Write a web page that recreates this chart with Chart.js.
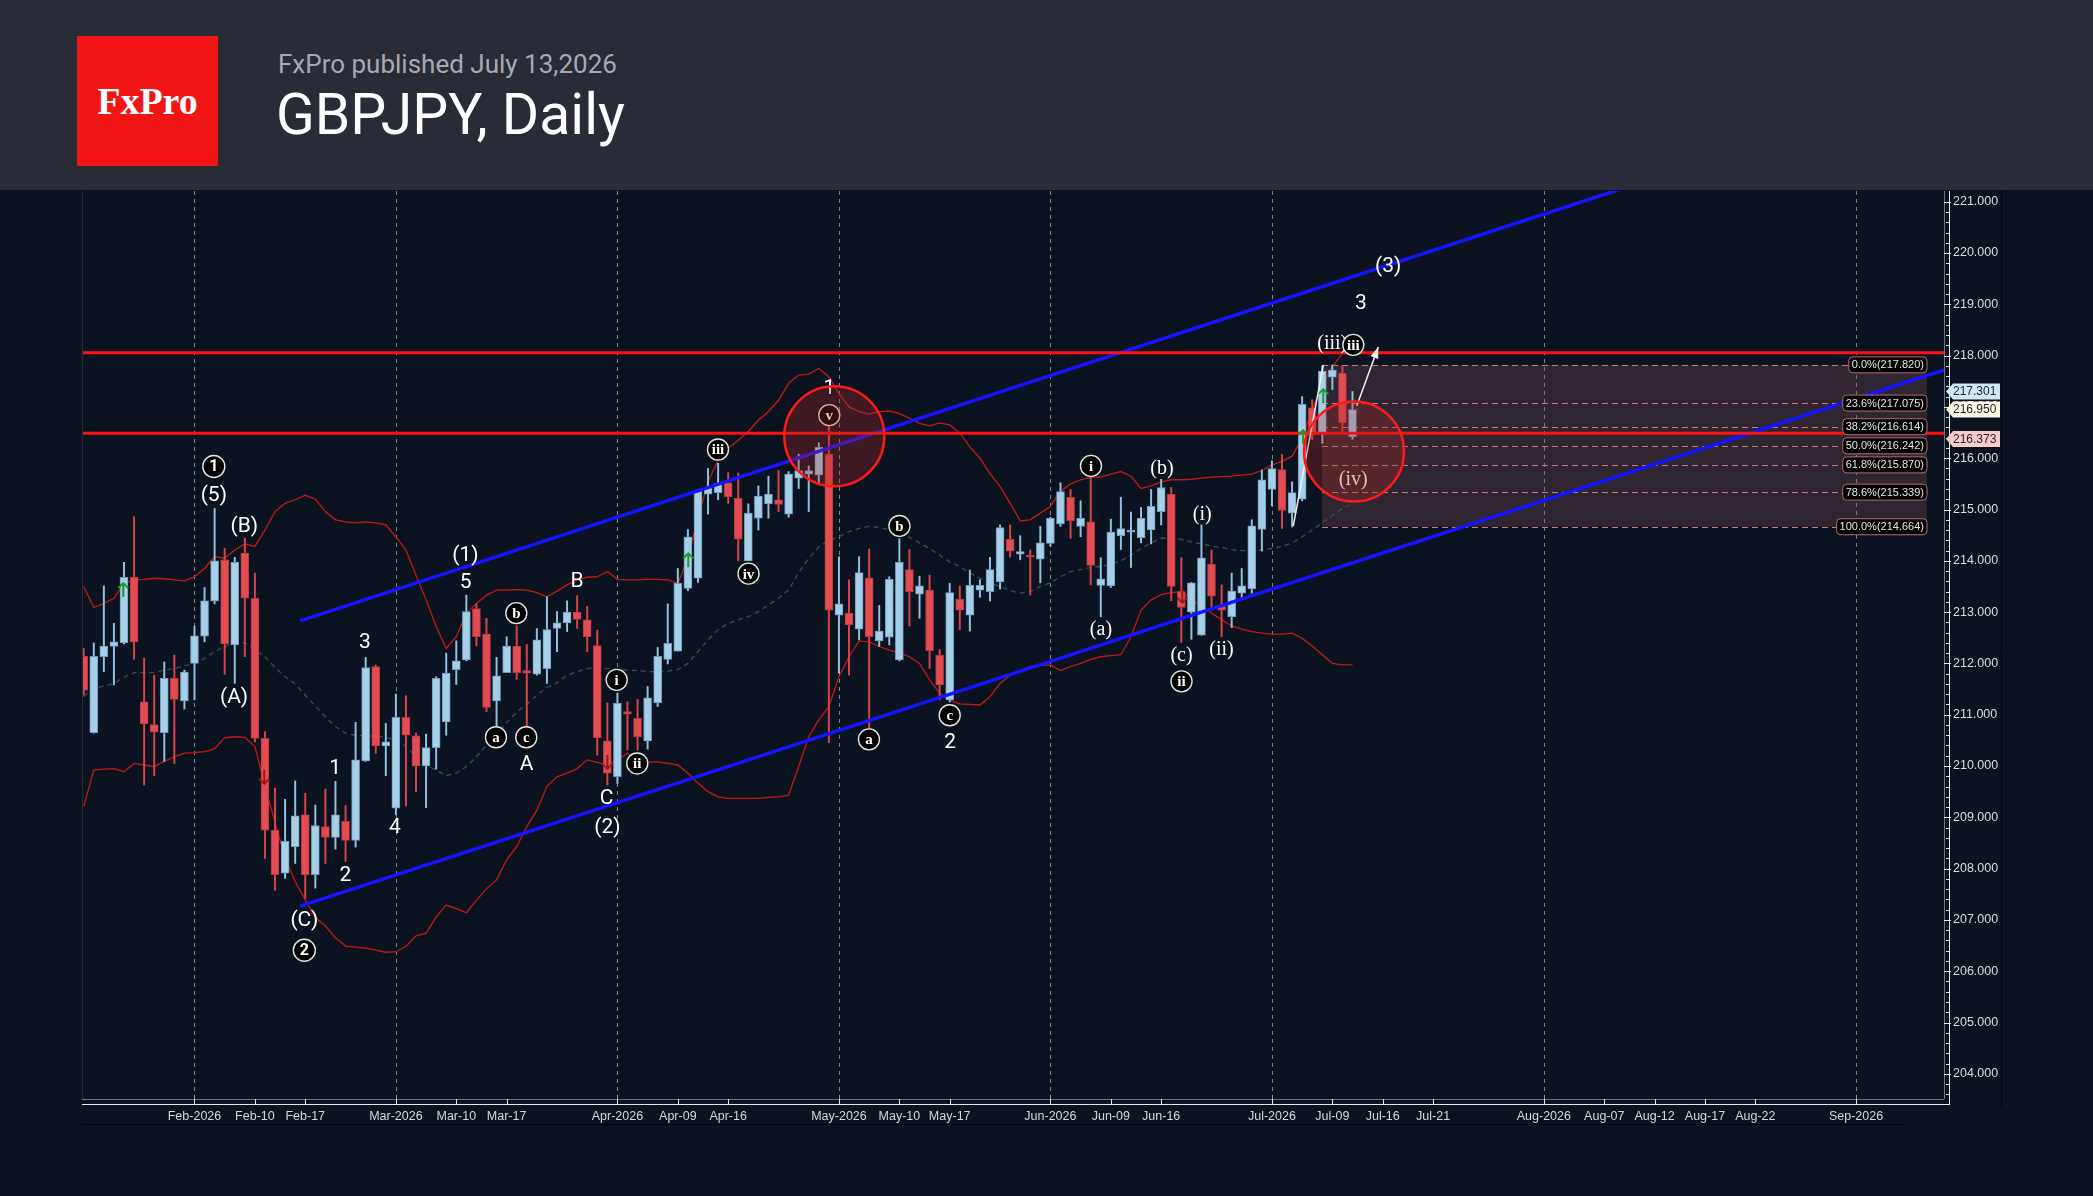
<!DOCTYPE html>
<html>
<head>
<meta charset="utf-8">
<title>GBPJPY, Daily</title>
<script src="https://cdn.jsdelivr.net/npm/chart.js@4.4.1/dist/chart.umd.min.js"></script>
<style>
  html, body { margin: 0; padding: 0; width: 2093px; height: 1196px; overflow: hidden; background: #0c1320; }
  #header { position: absolute; left: 0; top: 0; width: 2093px; height: 190px; background: #292b37; }
  #logo { position: absolute; left: 77px; top: 36px; width: 141px; height: 130px; background: #f21515; color: #fff;
          font: bold 38px 'Liberation Serif', 'Times New Roman', serif; display: flex; align-items: center; justify-content: center; }
  #sub { position: absolute; left: 278px; top: 51px; font: 26px Roboto, sans-serif; line-height: 26px; color: #a7a9b1; white-space: nowrap; }
  #title { position: absolute; left: 276px; top: 86px; font: 57px Roboto, sans-serif; line-height: 57px; color: #fff; white-space: nowrap; }
  #wrap { position: absolute; left: 0; top: 190px; width: 2093px; height: 1006px; }
</style>
</head>
<body>
<div id="header">
  <div id="logo">FxPro</div>
  <div id="sub">FxPro published July 13,2026</div>
  <div id="title">GBPJPY, Daily</div>
</div>
<div id="wrap"><canvas id="chart" width="2093" height="1006"></canvas></div>

<script>
// daily bars, one per trading day from Jan 16 to Jul 13 2026 (x = bar index)
const opens = [212.14,210.65,212.13,212.33,212.40,213.68,211.25,210.81,210.65,211.71,
  211.27,212.00,212.53,213.22,214.02,212.36,214.15,213.27,210.54,208.75,
  207.91,208.43,209.05,207.88,208.82,208.61,208.92,208.55,210.10,211.94,
  210.39,209.18,210.95,210.59,210.00,210.36,210.86,211.88,212.07,213.07,
  212.57,211.27,211.82,212.34,211.86,211.79,211.90,212.68,212.79,213.00,
  212.85,212.35,210.49,209.79,211.06,210.93,210.49,211.23,212.08,212.24,
  213.46,213.66,215.30,215.33,215.52,215.22,214.00,214.83,215.11,215.19,
  214.91,215.61,215.69,215.67,216.08,212.94,212.98,212.67,213.67,212.44,
  212.51,212.07,213.83,213.35,213.43,212.16,211.29,213.25,212.94,213.43,
  213.40,213.59,214.42,214.13,214.11,214.03,214.34,214.72,215.24,214.67,
  214.76,213.52,213.51,214.49,214.56,214.45,214.60,214.96,215.30,213.40,
  213.00,212.55,213.93,213.11,212.91,213.37,213.45,214.61,215.39,215.78,
  214.93,215.20,216.98,216.50,217.58,217.66,216.42];
const highs = [212.29,212.40,213.51,212.78,213.97,214.86,212.10,211.77,212.03,212.16,
  211.87,212.73,213.48,215.02,214.24,214.07,214.44,213.76,210.67,209.57,
  209.35,209.71,209.47,209.24,209.55,209.70,209.23,210.85,212.12,211.97,
  210.83,211.40,211.37,210.64,210.62,211.74,212.20,212.44,213.33,213.16,
  212.88,212.12,212.52,212.73,212.37,212.68,213.30,213.01,213.22,213.32,
  213.11,212.65,211.23,211.42,211.25,211.30,211.55,212.31,213.16,213.85,
  214.61,215.39,215.80,215.90,215.72,215.71,215.11,215.46,215.65,215.76,
  215.74,216.08,215.85,216.30,216.63,214.08,213.63,214.08,214.23,213.13,
  213.69,214.43,214.22,213.70,213.72,212.27,213.56,213.51,213.82,213.63,
  214.07,214.70,214.70,214.49,214.21,214.67,214.85,215.52,215.39,215.17,
  215.64,214.06,214.81,215.24,214.95,215.04,215.39,215.59,215.43,214.06,
  213.58,214.70,214.21,213.53,213.76,213.85,214.80,215.77,215.95,216.07,
  215.54,217.20,217.14,217.80,217.82,217.80,217.30];
const lows = [211.38,210.64,211.84,211.58,212.38,212.08,209.63,209.81,210.09,210.05,
  211.11,211.29,212.42,213.16,211.79,211.61,212.13,210.47,208.20,207.58,
  207.81,208.10,207.42,207.62,208.10,208.38,208.14,208.42,210.09,210.25,
  209.81,209.05,209.22,209.50,209.19,209.94,210.60,211.59,212.05,212.34,
  211.06,210.78,211.82,211.69,210.70,211.77,211.61,212.23,212.62,212.68,
  212.23,210.21,209.63,209.66,210.31,210.31,210.33,211.16,211.99,212.24,
  213.42,213.58,214.91,215.19,215.12,214.00,214.00,214.60,214.83,214.96,
  214.85,215.41,214.96,215.51,210.46,211.81,211.77,212.46,210.54,212.33,
  212.36,212.05,212.73,212.88,211.90,211.29,211.25,212.66,212.63,213.29,
  213.22,213.45,214.07,214.02,213.33,213.57,214.28,214.67,214.44,214.47,
  213.53,212.91,213.48,214.22,213.87,214.35,214.33,214.70,213.22,212.41,
  212.47,212.55,213.04,212.52,212.70,213.25,213.37,214.19,215.07,214.63,
  214.66,215.17,216.36,216.29,217.34,216.50,216.37];
const closes = [211.48,212.14,212.34,212.42,213.68,212.42,210.82,210.66,211.71,211.30,
  211.83,212.54,213.22,214.00,212.38,213.97,213.27,210.54,208.75,207.88,
  208.53,209.03,207.88,208.84,208.61,209.05,208.55,210.12,211.92,210.39,
  210.47,210.95,210.60,210.00,210.36,211.71,211.81,212.05,213.01,212.52,
  211.14,211.76,212.34,211.82,211.81,212.46,212.66,212.79,213.00,212.86,
  212.52,210.55,209.86,211.22,211.01,210.57,211.33,212.14,212.39,213.56,
  214.47,215.36,215.43,215.51,215.25,214.42,214.93,215.26,215.30,215.10,
  215.69,215.76,215.76,216.21,213.04,213.16,212.75,213.77,212.52,212.63,
  213.64,213.97,213.40,213.51,212.25,211.58,213.38,213.04,213.52,213.52,
  213.83,214.65,214.19,214.18,214.07,214.35,214.83,215.35,214.78,214.83,
  213.91,213.65,214.56,214.63,214.60,214.83,215.06,215.43,213.50,213.09,
  213.57,214.06,213.31,213.04,213.41,213.51,214.68,215.58,215.80,214.98,
  215.33,217.05,216.45,217.70,217.72,216.69,216.95];

// Bollinger bands
const bbUpper = [213.50,213.09,213.17,213.27,213.56,213.63,213.64,213.66,213.65,213.63,
  213.61,213.69,213.85,214.08,214.05,214.21,214.33,214.28,214.60,214.96,
  215.12,215.19,215.28,215.20,214.96,214.80,214.76,214.74,214.76,214.74,
  214.70,214.47,214.21,213.72,213.24,212.72,212.29,212.52,212.98,213.17,
  213.33,213.43,213.43,213.44,213.43,213.38,213.30,213.41,213.53,213.63,
  213.68,213.69,213.79,213.64,213.63,213.63,213.64,213.64,213.63,213.56,
  214.05,214.83,215.54,215.96,216.19,216.35,216.52,216.74,216.91,217.13,
  217.46,217.62,217.64,217.75,217.59,217.26,217.00,216.91,216.86,216.91,
  216.92,216.87,216.78,216.68,216.63,216.69,216.65,216.49,216.22,216.00,
  215.70,215.45,215.12,214.78,214.80,214.93,215.06,215.35,215.50,215.58,
  215.63,215.63,215.69,215.74,215.65,215.41,215.46,215.54,215.58,215.58,
  215.59,215.61,215.63,215.64,215.65,215.67,215.69,215.76,215.87,215.94,
  216.04,216.39,216.94,217.43,217.78,218.04,218.11];
const bbMiddle = [211.35,211.51,211.56,211.61,211.73,211.82,211.82,211.82,211.87,211.90,
  211.95,212.00,212.10,212.23,212.33,212.40,212.40,212.27,212.13,211.92,
  211.74,211.60,211.38,211.17,210.96,210.77,210.64,210.60,210.59,210.58,
  210.56,210.51,210.38,210.18,210.02,209.92,209.81,209.86,209.99,210.18,
  210.41,210.60,210.85,211.05,211.20,211.38,211.53,211.62,211.77,211.84,
  211.90,211.92,211.90,211.88,211.87,211.86,211.84,211.84,211.85,211.88,
  212.00,212.23,212.46,212.66,212.78,212.85,212.91,213.01,213.14,213.27,
  213.43,213.77,214.05,214.27,214.40,214.47,214.57,214.63,214.67,214.65,
  214.61,214.55,214.46,214.35,214.24,214.11,213.98,213.89,213.76,213.66,
  213.57,213.50,213.42,213.37,213.40,213.50,213.57,213.69,213.79,213.83,
  213.87,213.89,213.93,214.00,214.11,214.24,214.35,214.44,214.44,214.42,
  214.37,214.33,214.29,214.26,214.22,214.20,214.20,214.21,214.24,214.28,
  214.35,214.47,214.60,214.74,214.89,215.02,215.12];
const bbLower = [209.21,209.92,209.94,209.95,209.89,210.05,210.02,209.99,210.09,210.18,
  210.25,210.26,210.28,210.34,210.55,210.57,210.56,210.38,209.60,208.90,
  208.20,207.75,207.39,207.05,206.88,206.65,206.49,206.47,206.45,206.41,
  206.37,206.38,206.48,206.69,206.74,207.06,207.29,207.22,207.14,207.38,
  207.61,207.78,208.17,208.43,208.82,209.14,209.60,209.79,209.86,209.95,
  210.12,210.07,210.02,210.12,210.25,210.08,210.08,210.08,210.05,210.02,
  209.86,209.67,209.50,209.40,209.37,209.37,209.37,209.37,209.39,209.40,
  209.43,209.99,210.57,210.90,211.16,211.74,212.13,212.44,212.42,212.33,
  212.26,212.20,212.13,212.00,211.68,211.42,211.29,211.21,211.20,211.19,
  211.35,211.61,211.77,211.86,211.94,211.96,211.97,211.86,211.94,212.00,
  212.08,212.13,212.15,212.17,212.52,213.04,213.24,213.34,213.38,213.40,
  213.25,213.12,212.98,212.85,212.73,212.67,212.62,212.59,212.57,212.57,
  212.59,212.49,212.34,212.17,212.00,211.97,211.97];

// axis: bar index of each date label (after the last bar the axis runs in calendar days)
const tickIndex = [11, 17, 22, 31, 37, 42, 53, 59, 64, 75, 81, 86, 96, 102, 107, 118, 124, 129, 134, 145, 151, 156, 161, 166, 176];
const tickLabels = ['Feb-2026', 'Feb-10', 'Feb-17', 'Mar-2026', 'Mar-10', 'Mar-17', 'Apr-2026', 'Apr-09', 'Apr-16',
  'May-2026', 'May-10', 'May-17', 'Jun-2026', 'Jun-09', 'Jun-16', 'Jul-2026', 'Jul-09', 'Jul-16', 'Jul-21',
  'Aug-2026', 'Aug-07', 'Aug-12', 'Aug-17', 'Aug-22', 'Sep-2026'];
const monthIndex = [11, 31, 53, 75, 96, 118, 145, 176];
const yTicks = [204, 205, 206, 207, 208, 209, 210, 211, 212, 213, 214, 215, 216, 217, 218, 219, 220, 221];

// fibonacci retracement of the last swing
const fibLevels = ['0.0', '23.6', '38.2', '50.0', '61.8', '78.6', '100.0'];
const fibPrices = [217.820, 217.075, 216.614, 216.242, 215.870, 215.339, 214.664];
const fibStart = 122.97;
const fibEnd = 183.05;

const resistance = [218.057, 216.485];
const channelUpper = [[21.5, 212.83], [160, 221.72]];
const channelLower = [[21.5, 207.27], [184.74, 217.72]];

const tagValues = ['217.301', '216.950', '216.373'];
const tagFills = ['#cfe7f6', '#fcf7e3', '#f9c9c9'];

// wave count: [style, text, bar index, price]
const waveLabels = [
  ['circ', '1', 12.92, 215.84], ['num', '(5)', 12.92, 215.27], ['num', '(B)', 15.95, 214.66],
  ['num', '(A)', 14.93, 211.33], ['num', '1', 24.96, 209.95], ['num', '2', 25.98, 207.87],
  ['num', '3', 27.93, 212.40], ['num', '4', 30.91, 208.79], ['num', '(C)', 21.91, 206.98],
  ['circ', '2', 21.91, 206.41], ['num', '(1)', 37.91, 214.09], ['num', '5', 37.93, 213.57],
  ['circ', 'a', 40.94, 210.56], ['circ', 'b', 42.96, 212.98], ['circ', 'c', 43.95, 210.56],
  ['num', 'A', 43.97, 210.03], ['num', 'B', 48.99, 213.59], ['circ', 'i', 52.93, 211.68],
  ['num', 'C', 51.92, 209.37], ['num', '(2)', 52.0, 208.80], ['circ', 'ii', 54.97, 210.05],
  ['circ', 'iii', 62.99, 216.17], ['circ', 'iv', 66.02, 213.75], ['num', '1', 74.04, 217.36],
  ['circ', 'v', 74.04, 216.84], ['circ', 'b', 81.01, 214.68], ['circ', 'a', 77.98, 210.52],
  ['circ', 'c', 86.0, 210.99], ['num', '2', 86.05, 210.46], ['circ', 'i', 100.03, 215.85],
  ['rom', '(a)', 101.02, 212.66], ['rom', '(b)', 107.08, 215.79], ['rom', '(i)', 111.08, 214.89],
  ['rom', '(c)', 109.02, 212.14], ['circ', 'ii', 109.02, 211.65], ['rom', '(ii)', 112.99, 212.26],
  ['rom', '(iii)', 123.99, 218.24], ['circ', 'iii', 126.08, 218.21], ['num', '3', 126.84, 219.01],
  ['num', '(3)', 129.55, 219.73], ['rom', '(iv)', 126.08, 215.59]
];
const upArrows = [[3.93, 213.43], [60.04, 214.01], [121.1, 216.41], [123.1, 217.21]];
const downArrows = [[17.93, 209.79], [52.0, 210.08], [109.1, 213.32]];
const zones = [[74.54, 216.43], [126.15, 216.13]];
const impulseLeg = [[120.12, 214.68], [123.1, 217.82]];
const projection = [[126.42, 217.02], [128.56, 218.17]];

const idx = opens.map((_, i) => i);
const isUp = idx.map(i => closes[i] >= opens[i]);
const bodyFill = isUp.map(u => u ? '#a7d0e8' : '#e24c52');
const bodyEdge = isUp.map(u => u ? '#6d9dbd' : '#b53a40');
const wickColor = isUp.map(u => u ? '#92c2de' : '#d9444b');

const pts = arr => arr.map((v, i) => ({ x: i, y: v }));
const seg = arr => arr.map(p => ({ x: p[0], y: p[1] }));

function drawWave(ctx, kind, text, x, y) {
  ctx.textAlign = 'center';
  ctx.textBaseline = 'middle';
  if (kind === 'num') {
    ctx.font = '21px Roboto, sans-serif';
    ctx.fillStyle = '#ffffff';
    ctx.fillText(text, x, y);
  } else if (kind === 'rom') {
    ctx.font = '20px "Liberation Serif", serif';
    ctx.fillStyle = '#ffffff';
    ctx.fillText(text, x, y);
  } else {
    const digit = /\d/.test(text);
    ctx.beginPath();
    ctx.arc(x, y, digit ? 11 : 10.5, 0, Math.PI * 2);
    ctx.fillStyle = '#000000';
    ctx.fill();
    ctx.lineWidth = 1.4;
    ctx.strokeStyle = '#e4e4e4';
    ctx.stroke();
    ctx.fillStyle = '#ffffff';
    ctx.font = digit ? 'bold 16px Roboto, sans-serif' : 'bold 15px "Liberation Serif", serif';
    ctx.fillText(text, x, y + 1);
  }
}

function drawArrow(ctx, x, y, dir, color) {
  // dir -1 points up, 1 points down
  const tip = y + 7 * dir;
  ctx.strokeStyle = color;
  ctx.lineWidth = 2;
  ctx.beginPath();
  ctx.moveTo(x, y - 7 * dir);
  ctx.lineTo(x, tip);
  ctx.moveTo(x - 5, tip - 5 * dir);
  ctx.lineTo(x, tip);
  ctx.lineTo(x + 5, tip - 5 * dir);
  ctx.stroke();
}

function line(ctx, x1, y1, x2, y2) {
  ctx.beginPath();
  ctx.moveTo(x1, y1);
  ctx.lineTo(x2, y2);
  ctx.stroke();
}

const overlay = {
  id: 'overlay',
  beforeDatasetsDraw(chart) {
    const { ctx, chartArea: a, scales: { x, y } } = chart;
    ctx.save();
    // month separators
    ctx.strokeStyle = '#7c838d';
    ctx.lineWidth = 1;
    ctx.setLineDash([4, 4]);
    monthIndex.forEach(m => {
      const px = Math.round(x.getPixelForValue(m)) + 0.5;
      line(ctx, px, a.top, px, a.bottom);
    });
    // fib zone
    const fx0 = x.getPixelForValue(fibStart);
    const fx1 = x.getPixelForValue(fibEnd);
    const fy0 = y.getPixelForValue(fibPrices[0]);
    const fy1 = y.getPixelForValue(fibPrices[fibPrices.length - 1]);
    ctx.setLineDash([]);
    ctx.fillStyle = 'rgba(132,82,89,0.3)';
    ctx.fillRect(fx0, fy0, fx1 - fx0, fy1 - fy0);
    ctx.strokeStyle = '#c47c80';
    ctx.setLineDash([6, 4]);
    fibPrices.forEach(p => {
      const py = Math.round(y.getPixelForValue(p)) + 0.5;
      line(ctx, fx0, py, fx1, py);
    });
    ctx.restore();
  },
  afterDatasetsDraw(chart) {
    const { ctx, chartArea: a, scales: { x, y } } = chart;
    const px = v => x.getPixelForValue(v);
    const py = v => y.getPixelForValue(v);
    ctx.save();

    waveLabels.forEach(([kind, text, xi, yp]) => drawWave(ctx, kind, text, px(xi), py(yp)));
    upArrows.forEach(([xi, yp]) => drawArrow(ctx, px(xi), py(yp), -1, '#1f9a2a'));
    downArrows.forEach(([xi, yp]) => drawArrow(ctx, px(xi), py(yp), 1, '#9a1c1c'));

    // projected move
    ctx.strokeStyle = '#f2f2f2';
    ctx.lineWidth = 1.5;
    line(ctx, px(impulseLeg[0][0]), py(impulseLeg[0][1]), px(impulseLeg[1][0]), py(impulseLeg[1][1]));
    const ax0 = px(projection[0][0]), ay0 = py(projection[0][1]);
    const ax1 = px(projection[1][0]), ay1 = py(projection[1][1]);
    line(ctx, ax0, ay0, ax1, ay1);
    const ang = Math.atan2(ay1 - ay0, ax1 - ax0);
    ctx.fillStyle = '#f2f2f2';
    ctx.beginPath();
    ctx.moveTo(ax1, ay1);
    ctx.lineTo(ax1 - 12 * Math.cos(ang - 0.35), ay1 - 12 * Math.sin(ang - 0.35));
    ctx.lineTo(ax1 - 12 * Math.cos(ang + 0.35), ay1 - 12 * Math.sin(ang + 0.35));
    ctx.closePath();
    ctx.fill();

    // highlighted zones
    zones.forEach(([xi, yp]) => {
      ctx.beginPath();
      ctx.arc(px(xi), py(yp), 50, 0, Math.PI * 2);
      ctx.fillStyle = 'rgba(180,40,40,0.3)';
      ctx.fill();
      ctx.lineWidth = 2.5;
      ctx.strokeStyle = '#ff1a1a';
      ctx.stroke();
    });

    // fib labels
    ctx.font = '11px "Liberation Sans", Arial, sans-serif';
    ctx.textAlign = 'left';
    ctx.textBaseline = 'middle';
    const fr = px(fibEnd);
    fibLevels.forEach((lv, k) => {
      const txt = lv + '%(' + fibPrices[k].toFixed(3) + ')';
      const w = ctx.measureText(txt).width + 6;
      const cy = py(fibPrices[k]);
      ctx.beginPath();
      ctx.roundRect(fr - w, cy - 8, w, 16, 4);
      ctx.fillStyle = '#000000';
      ctx.fill();
      ctx.lineWidth = 1;
      ctx.strokeStyle = '#b86b6f';
      ctx.stroke();
      ctx.fillStyle = '#e6e6e6';
      ctx.fillText(txt, fr - w + 3, cy + 0.5);
    });

    // frame
    ctx.lineWidth = 1;
    ctx.strokeStyle = '#262c36';
    line(ctx, a.left + 0.5, a.top, a.left + 0.5, a.bottom);
    ctx.strokeStyle = '#6f747c';
    line(ctx, a.left, a.bottom + 0.5, a.right, a.bottom + 0.5);
    line(ctx, a.right + 0.5, a.top, a.right + 0.5, a.bottom);
    ctx.strokeStyle = '#e6e8ea';
    line(ctx, a.left, a.bottom + 5.5, a.right + 6, a.bottom + 5.5);
    line(ctx, a.right + 5.5, a.top, a.right + 5.5, a.bottom + 6);
    yTicks.forEach(v => {
      const ty = Math.round(py(v)) + 0.5;
      line(ctx, a.right, ty, a.right + 7, ty);
      for (let k = 1; k < 5; k++) {
        const my = Math.round(py(v - k * 0.2)) + 0.5;
        if (my < a.bottom) line(ctx, a.right + 2, my, a.right + 5, my);
      }
    });
    tickIndex.forEach(t => {
      const tx = Math.round(px(t)) + 0.5;
      line(ctx, tx, a.bottom, tx, a.bottom + 5);
    });
    ctx.strokeStyle = '#9aa0a8';
    monthIndex.forEach(t => {
      const tx = Math.round(px(t)) + 0.5;
      line(ctx, tx, a.bottom - 4, tx, a.bottom);
    });
    ctx.strokeStyle = '#03060b';
    line(ctx, 2001.5, a.top, 2001.5, a.bottom + 9);
    line(ctx, a.left, a.bottom + 25.5, 1905, a.bottom + 25.5);

    // last price tags
    ctx.font = '12px "Liberation Sans", Arial, sans-serif';
    tagValues.forEach((v, k) => {
      const cy = py(parseFloat(v));
      const x0 = a.right + 2;
      ctx.beginPath();
      ctx.moveTo(x0, cy);
      ctx.lineTo(x0 + 7, cy - 8);
      ctx.lineTo(2000, cy - 8);
      ctx.lineTo(2000, cy + 8);
      ctx.lineTo(x0 + 7, cy + 8);
      ctx.closePath();
      ctx.fillStyle = tagFills[k];
      ctx.fill();
      ctx.fillStyle = '#1b2230';
      ctx.fillText(v, 1953, cy + 0.5);
    });
    ctx.restore();
  }
};

new Chart(document.getElementById('chart'), {
  type: 'bar',
  data: {
    datasets: [
      { type: 'line', data: pts(bbUpper), borderColor: '#c41616', borderWidth: 1.3, pointRadius: 0, tension: 0, order: 9 },
      { type: 'line', data: pts(bbLower), borderColor: '#c41616', borderWidth: 1.3, pointRadius: 0, tension: 0, order: 9 },
      { type: 'line', data: pts(bbMiddle), borderColor: '#3a4d57', borderDash: [5, 4], borderWidth: 1.3, pointRadius: 0, tension: 0, order: 9 },
      { type: 'bar', data: idx.map(i => ({ x: i, y: [lows[i], highs[i]] })), backgroundColor: wickColor,
        barThickness: 1.3, grouped: false, order: 6 },
      { type: 'bar', data: idx.map(i => ({ x: i, y: [opens[i], closes[i]] })), backgroundColor: bodyFill,
        borderColor: bodyEdge, borderWidth: 1, borderSkipped: false, barThickness: 8, minBarLength: 2, grouped: false, order: 5 },
      { type: 'line', data: seg(channelUpper), borderColor: '#1414ff', borderWidth: 3.5, pointRadius: 0, order: 3 },
      { type: 'line', data: seg(channelLower), borderColor: '#1414ff', borderWidth: 3.5, pointRadius: 0, order: 3 },
      ...resistance.map(r => ({ type: 'line', data: [{ x: -1, y: r }, { x: 190, y: r }], borderColor: '#ff1010',
        borderWidth: 3, pointRadius: 0, order: 2 }))
    ]
  },
  options: {
    responsive: false,
    devicePixelRatio: 1,
    animation: false,
    layout: { padding: { left: 82, top: 1, right: 0, bottom: 0 } },
    plugins: { legend: { display: false }, tooltip: { enabled: false } },
    scales: {
      x: {
        type: 'linear', min: -0.17, max: 184.74, offset: false,
        grid: { display: false, drawTicks: false }, border: { display: false },
        afterBuildTicks: s => { s.ticks = tickIndex.map(v => ({ value: v })); },
        afterFit: s => { s.height = 97; s.paddingLeft = 0; s.paddingRight = 0; },
        ticks: {
          autoSkip: false, maxRotation: 0, padding: 10, color: '#d4d6da',
          font: { family: '"Liberation Sans", Arial, sans-serif', size: 12.5 },
          callback: v => tickLabels[tickIndex.indexOf(v)]
        }
      },
      y: {
        position: 'right', min: 203.509, max: 221.209,
        grid: { display: false, drawTicks: false }, border: { display: false },
        afterBuildTicks: s => { s.ticks = yTicks.map(v => ({ value: v })); },
        afterFit: s => { s.width = 149; s.paddingTop = 0; s.paddingBottom = 0; },
        ticks: {
          padding: 9, color: '#dadcde',
          font: { family: '"Liberation Sans", Arial, sans-serif', size: 12.5 },
          callback: v => v.toFixed(3)
        }
      }
    }
  },
  plugins: [overlay]
});
</script>
</body>
</html>
